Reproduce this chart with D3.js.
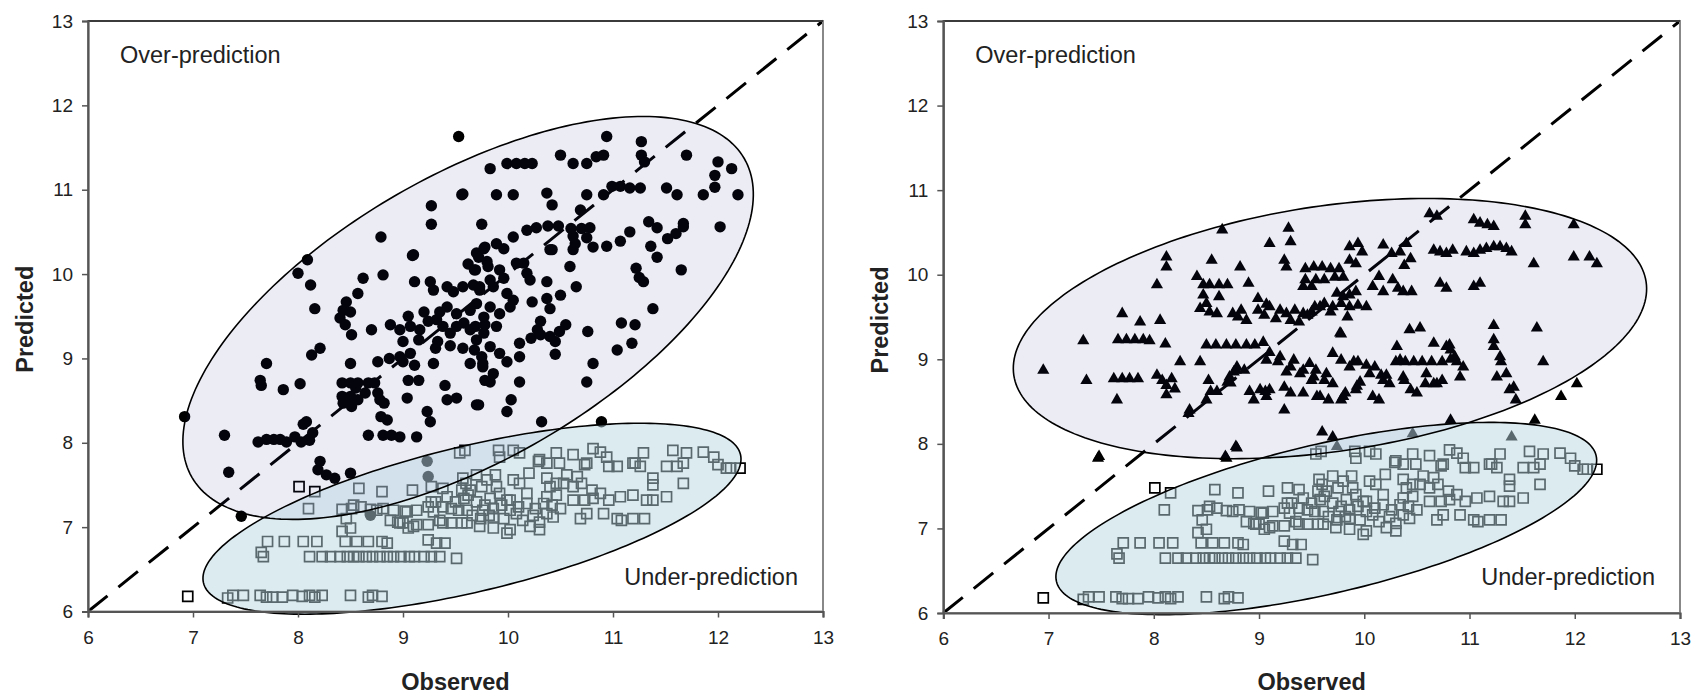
<!DOCTYPE html>
<html>
<head>
<meta charset="utf-8">
<script src="https://cdn.jsdelivr.net/npm/d3@7"></script>
<style>
  body { margin: 0; background: #fff; }
  text { font-family: "Liberation Sans", Arial, sans-serif; fill: #222; }
</style>
</head>
<body>
<div id="chart"></div>
<script>
/** DATA (observed, predicted) */
const ticks = [6, 7, 8, 9, 10, 11, 12, 13];

// under-prediction squares (same in both panels)
const squares = [
  [6.95,6.18],[7.33,6.16],[7.38,6.19],[7.48,6.19],[7.64,6.19],[7.70,6.17],[7.76,6.17],[7.85,6.17],[7.95,6.19],
  [8.04,6.18],[8.11,6.19],[8.16,6.17],[8.23,6.19],[8.50,6.19],[8.67,6.17],[8.71,6.19],[8.80,6.18],
  [7.67,6.65],[7.65,6.70],[8.11,6.65],[8.23,6.65],[8.31,6.65],[8.40,6.65],[8.47,6.65],[8.53,6.65],[8.58,6.65],
  [8.65,6.65],[8.71,6.65],[8.78,6.65],[8.85,6.65],[8.91,6.65],[8.98,6.65],[9.06,6.65],[9.11,6.65],[9.20,6.65],
  [9.27,6.65],[9.35,6.65],[9.51,6.63],
  [7.71,6.83],[7.87,6.83],[8.05,6.83],[8.18,6.83],[8.45,6.83],[8.56,6.83],[8.67,6.83],[8.80,6.83],[8.85,6.81],
  [9.24,6.85],[9.40,6.81],[9.32,6.81],
  [8.46,7.10],[8.50,6.99],[8.42,6.95],[8.88,7.08],[8.97,7.05],[9.05,6.99],[9.13,7.03],[8.95,7.06],[9.24,7.03],
  [9.35,7.08],[9.46,7.05],[9.56,7.05],[9.00,7.05],[9.10,7.01],[9.38,7.05],[9.61,7.05],[9.73,7.01],[9.86,6.99],
  [10.02,6.97],[9.99,6.93],[10.21,7.01],[10.30,6.97],
  [8.10,7.22],[8.42,7.21],[8.51,7.22],[8.60,7.24],[8.69,7.21],[8.53,7.26],[8.75,7.20],[8.81,7.22],[8.91,7.20],
  [9.02,7.19],[9.13,7.20],[9.24,7.24],[9.31,7.30],[9.38,7.24],[9.46,7.22],[9.53,7.20],[9.04,7.18],[9.29,7.18],
  [9.61,7.20],[9.76,7.20],
  [8.01,7.48],[8.16,7.42],[8.58,7.46],[8.80,7.42],[9.09,7.44],[9.27,7.48],[9.38,7.46],[9.60,7.52],[9.56,7.44],
  [9.57,7.58],[9.64,7.44],[9.75,7.48],[9.80,7.56],[9.89,7.48],[10.05,7.56],[10.11,7.52],[10.18,7.40],[10.37,7.58],
  [10.40,7.48],[10.46,7.52],[10.53,7.52],[10.62,7.48],[10.70,7.52],[10.80,7.44],[10.88,7.40],[9.92,7.40],[9.99,7.32],
  [9.27,7.30],[9.83,7.34],[10.02,7.32],[10.37,7.36],[10.46,7.38],[10.62,7.32],[10.73,7.32],[10.81,7.34],[10.96,7.32],
  [11.07,7.36],[11.19,7.38],[11.32,7.32],[11.38,7.32],[11.51,7.36],[11.67,7.52],[11.38,7.58],[11.38,7.50],
  [9.86,7.12],[9.96,7.10],[10.08,7.16],[10.24,7.14],[10.30,7.06],[10.37,7.16],[10.43,7.12],[10.69,7.10],[10.75,7.16],
  [10.91,7.16],[11.04,7.10],[11.08,7.08],[11.19,7.10],[11.30,7.10],
  [9.62,7.38],[9.70,7.30],[9.78,7.26],[9.86,7.22],[9.94,7.26],[10.02,7.20],[10.10,7.24],[10.18,7.28],[10.26,7.22],
  [10.34,7.28],[10.42,7.26],[10.50,7.22],[9.66,7.14],[9.74,7.10],[9.82,7.14],[10.14,7.08],[9.58,7.34],[9.50,7.30],
  [9.42,7.36],[9.70,7.62],[9.88,7.62],[10.20,7.64],[10.56,7.62],[10.66,7.60],
  [9.54,7.88],[9.59,7.91],[9.91,7.91],[10.05,7.91],[9.92,7.83],[10.30,7.80],[10.37,7.76],[10.46,7.88],[10.62,7.86],
  [10.75,7.76],[10.81,7.93],[10.88,7.89],[10.94,7.83],[10.96,7.72],[11.04,7.72],[11.19,7.76],[11.29,7.88],[11.26,7.72],
  [11.51,7.72],[11.57,7.91],[11.61,7.72],[11.70,7.88],[11.67,7.76],[11.86,7.89],[11.96,7.83],[12.00,7.74],[12.08,7.70],
  [12.21,7.70],[10.11,7.88],[10.29,7.78],[10.49,7.76],[10.73,7.74],[11.21,7.76],[12.12,7.70]
];

// left panel, over-prediction circles
const circles = [
  [9.53,11.63],[10.94,11.63],[11.27,11.57],[11.27,11.41],[11.30,11.33],[11.70,11.41],
  [12.00,11.33],[12.13,11.25],[11.97,11.17],[11.97,11.03],[11.86,10.94],[12.19,10.94],[12.02,10.56],[11.67,10.56],
  [11.51,11.02],[11.61,10.94],[9.83,11.25],[9.99,11.31],[10.08,11.31],[10.16,11.31],[10.23,11.31],
  [10.50,11.41],[10.62,11.31],[10.75,11.31],[10.84,11.39],[10.91,11.41],
  [10.91,10.94],[10.99,11.04],[11.07,11.04],[11.16,11.02],[11.26,11.02],[10.75,10.94],
  [10.37,10.96],[10.42,10.82],[9.89,10.94],[10.05,10.94],[9.56,10.94],[9.57,10.95],
  [9.27,10.81],[9.27,10.59],[9.75,10.59],[10.69,10.76],
  [10.18,10.52],[10.27,10.55],[10.38,10.57],[10.48,10.57],[10.60,10.54],[10.70,10.54],[10.78,10.55],
  [10.42,10.29],[10.62,10.45],[10.64,10.36],[10.75,10.43],[10.81,10.32],[10.94,10.33],[11.07,10.39],[11.16,10.50],
  [11.34,10.62],[11.42,10.55],[11.36,10.33],[11.42,10.20],[11.52,10.42],[11.60,10.48],[11.67,10.60],
  [11.22,10.07],[11.29,9.91],[11.25,9.96],[11.65,10.05],[11.38,9.59],[11.08,9.42],[11.21,9.40],[11.18,9.18],[11.04,9.10],
  [10.76,9.32],[10.81,8.94],[10.75,8.72],[10.89,8.25],[10.32,8.25],[10.03,8.51],[9.99,8.37],[9.72,8.45],[9.83,8.72],
  [10.11,8.72],[9.99,8.96],[10.11,9.18],[10.22,9.24],[10.31,9.28],[10.40,9.26],[10.45,9.20],[10.45,9.05],[10.28,9.34],
  [10.31,9.44],[10.55,9.40],[10.49,9.32],
  [9.70,10.25],[9.78,10.32],[9.89,10.36],[9.96,10.30],[10.05,10.44],[9.69,10.05],[9.81,10.09],[9.92,10.05],[10.08,10.13],
  [10.15,10.13],[9.83,9.93],[9.96,9.95],[9.73,9.81],[9.86,9.85],[9.99,9.77],[9.70,9.65],[9.83,9.61],[9.92,9.53],
  [10.02,9.61],[10.18,10.01],[10.21,9.93],[10.37,9.91],[10.23,9.67],[10.05,9.69],[10.37,9.71],[10.50,9.75],[10.40,9.59],
  [9.69,9.38],[9.78,9.40],[9.89,9.38],[9.70,9.22],[9.83,9.14],[9.92,9.06],[9.76,8.94],[9.86,8.82],[10.11,9.02],
  [10.65,9.85],[10.59,10.09],[10.62,10.29],[10.40,10.29],[9.10,10.23],
  [8.79,10.44],[9.09,10.22],[9.77,10.30],[9.72,10.20],[9.62,10.12],[9.68,10.05],[9.80,10.15],
  [8.09,10.17],[8.00,10.01],[8.12,9.87],[8.16,9.59],[8.62,9.95],[8.81,9.99],[8.57,9.77],
  [8.46,9.67],[8.43,9.57],[8.40,9.48],[8.45,9.40],[8.51,9.28],[8.50,9.55],[8.70,9.34],
  [9.11,9.91],[9.26,9.91],[9.29,9.81],[9.42,9.85],[9.48,9.79],[9.57,9.85],[9.67,9.87],[9.73,9.85],
  [8.88,9.40],[8.97,9.34],[9.07,9.38],[9.16,9.34],[9.24,9.44],[9.32,9.46],[9.38,9.38],[9.45,9.30],[9.51,9.38],
  [9.58,9.42],[9.64,9.34],[9.77,9.30],[9.51,9.53],[9.42,9.61],[9.64,9.57],[9.77,9.49],
  [9.20,9.55],[9.35,9.55],[9.05,9.50],[9.15,9.22],[9.33,9.20],[9.45,9.15],[9.00,9.20],
  [8.50,8.94],[8.21,9.12],[8.13,9.04],[7.70,8.94],[7.64,8.74],[7.65,8.68],[7.86,8.63],[8.02,8.70],
  [6.92,8.31],[7.30,8.09],[7.34,7.65],[7.46,7.13],
  [7.62,8.01],[7.70,8.04],[7.77,8.04],[7.83,8.04],[7.89,8.01],[7.97,8.07],[8.03,8.01],[8.11,8.03],[8.08,8.25],
  [8.14,8.12],[8.05,8.22],[8.21,7.78],[8.19,7.68],[8.27,7.62],[8.35,7.58],[8.50,7.64],
  [8.67,8.09],[8.81,8.09],[8.89,8.09],[8.97,8.07],[9.13,8.07],[9.23,7.78],[9.24,7.60],[8.69,7.14],
  [8.42,8.71],[8.50,8.71],[8.57,8.71],[8.67,8.71],[8.73,8.71],[8.42,8.55],[8.50,8.55],[8.57,8.51],[8.43,8.47],
  [8.51,8.43],[8.64,8.59],[8.76,8.59],[8.78,8.51],[8.82,8.47],[8.79,8.31],[8.85,8.27],[8.55,8.65],
  [8.76,8.96],[8.87,9.00],[8.97,9.02],[9.07,9.06],[9.00,8.96],[9.11,8.92],[9.05,8.74],[9.15,8.74],[9.04,8.53],
  [9.29,8.94],[9.40,8.68],[9.42,8.51],[9.51,8.53],[9.70,8.45],[9.23,8.37],[9.26,8.25],
  [9.57,9.12],[9.68,9.10],[9.75,9.02],[9.64,8.94],[9.76,8.90],[9.31,9.12],[9.78,8.74]
];

// right panel, over-prediction triangles
const triangles = [
  [6.95,8.87],[7.33,9.22],[7.36,8.75],[7.65,8.52],[7.47,7.83],[7.70,9.54],[7.87,9.44],[8.06,9.46],
  [7.66,9.23],[7.74,9.23],[7.82,9.23],[7.90,9.23],[7.96,9.22],[8.11,9.18],
  [7.62,8.77],[7.70,8.77],[7.77,8.77],[7.85,8.77],
  [8.03,8.81],[8.08,8.75],[8.12,8.69],[8.17,8.77],[8.20,8.65],[8.12,8.58],[8.25,8.97],[8.44,8.97],
  [8.50,9.17],[8.59,9.17],[8.69,9.17],[8.78,9.17],[8.88,9.17],[8.96,9.17],[9.04,9.20],[9.10,9.08],
  [8.52,8.75],[8.54,8.62],[8.50,8.52],[8.60,8.62],[8.76,8.85],[8.73,8.72],[8.79,8.91],[8.86,8.87],
  [8.91,8.62],[8.95,8.52],[8.33,8.36],[8.69,7.83],[8.79,7.95],[9.07,8.99],[9.06,8.62],
  [8.65,10.53],[8.12,10.21],[8.12,10.09],[8.03,9.88],[8.55,10.17],[8.82,10.09],
  [8.41,9.98],[8.47,9.88],[8.53,9.88],[8.62,9.88],[8.70,9.88],[8.90,9.90],
  [8.47,9.76],[8.50,9.66],[8.44,9.60],[8.53,9.56],[8.60,9.54],[8.75,9.54],[8.80,9.50],[8.88,9.46],[8.83,9.58],[8.62,9.74],
  [8.99,9.72],[8.99,9.58],[9.07,9.65],
  [9.10,10.37],[9.28,10.55],[9.30,10.39],[9.24,10.17],[9.26,10.09],
  [9.44,10.07],[9.52,10.09],[9.60,10.09],[9.68,10.07],[9.76,10.07],[9.44,9.94],[9.54,9.94],[9.62,9.94],[9.72,9.97],
  [9.80,9.97],[9.42,9.86],[9.50,9.86],
  [9.86,10.33],[9.94,10.37],[9.98,10.27],[9.86,10.17],[9.92,10.13],
  [10.18,10.35],[10.26,10.25],[10.34,10.27],[10.40,10.37],[10.44,10.19],[10.38,10.11],
  [10.62,10.72],[10.69,10.69],[11.04,10.65],[11.10,10.61],[11.17,10.59],[11.23,10.57],[11.53,10.69],[11.53,10.59],
  [11.99,10.59],[11.99,10.21],[12.14,10.21],[12.21,10.13],[11.61,10.13],
  [10.66,10.29],[10.72,10.27],[10.78,10.25],[10.84,10.29],[10.97,10.27],[11.04,10.25],[11.10,10.29],[11.16,10.31],
  [11.23,10.33],[11.29,10.33],[11.35,10.31],[11.40,10.27],
  [10.72,9.90],[10.78,9.84],[11.04,9.86],[11.10,9.90],
  [10.14,9.98],[10.08,9.86],[10.18,9.80],[10.27,9.94],[10.32,9.84],[10.37,9.80],[10.45,9.80],
  [9.74,9.78],[9.80,9.74],[9.86,9.76],[9.92,9.80],[9.78,9.66],[9.70,9.62],[9.86,9.62],[9.94,9.64],[10.02,9.62],
  [9.26,9.54],[9.34,9.58],[9.42,9.54],[9.50,9.56],[9.58,9.62],[9.30,9.46],[9.38,9.44],[9.46,9.52],[9.68,9.56],
  [9.84,9.50],[9.10,9.62],[9.20,9.58],[9.53,9.62],[9.62,9.66],[9.05,9.52],[9.16,9.48],
  [9.77,9.31],[10.43,9.35],[10.53,9.37],[11.23,9.40],[11.23,9.23],[11.64,9.37],
  [10.66,9.19],[10.78,9.15],[10.82,9.11],[10.86,9.03],[11.23,9.15],[11.30,8.97],[11.70,8.97],
  [10.30,8.97],[10.39,8.97],[10.47,8.97],[10.55,8.97],[10.64,8.97],[10.74,8.97],[10.82,9.00],[10.94,8.91],
  [9.78,9.30],[9.70,9.07],[9.78,8.99],[9.86,8.91],[9.94,8.97],[10.02,8.93],[10.10,8.91],[10.16,8.81],
  [8.78,8.87],[8.72,8.79],[8.70,8.73],[9.18,8.97],[9.30,8.91],[9.42,8.87],[9.54,8.87],[9.50,8.75],
  [9.10,8.64],[9.24,8.67],[9.30,8.60],[9.42,8.60],[9.62,8.75],[9.70,8.71],[9.82,8.60],[9.58,8.56],[9.66,8.52],
  [9.78,8.52],[9.92,8.64],[9.96,8.73],[10.08,8.56],[10.14,8.52],[10.24,8.71],[10.38,8.75],[10.44,8.64],[10.50,8.60],
  [10.58,8.71],[10.66,8.71],[10.74,8.75],[11.42,8.67],[11.44,8.52],[11.87,8.56],[12.02,8.71],
  [9.24,8.40],[8.34,8.40],[9.60,8.14],[9.70,8.08],[8.78,7.97],[8.68,7.85],[7.48,7.85],
  [10.46,8.12],[10.82,8.28],[11.40,8.08],[11.62,8.28],[9.74,7.97],
  [9.20,9.03],[9.33,8.99],[9.48,8.95],[9.26,8.85],[9.39,8.83],[9.52,8.79],[9.64,8.83],[9.90,8.97],[10.05,8.83],
  [10.21,8.81],[10.34,8.99],[10.59,8.83],[10.81,9.17],[10.88,8.97],[11.29,9.03],[11.35,8.83],[10.31,9.15],
  [9.01,8.64],[9.07,8.56],[9.55,8.56],[9.80,8.56],[9.93,8.68],[10.18,8.75],[10.37,8.79],[10.69,8.71],[10.91,8.79],
  [11.26,8.79],[11.38,8.64]
];

// annotation ellipses in data units: centre and two conjugate half-axes
const overLeft = { c: [9.62, 9.48], u: [2.63, 1.89], v: [0.68, -1.46] };
const underLeft = { c: [9.657, 7.10], u: [2.557, 0.761], v: [0.161, -0.838] };
const overRight = { c: [9.674, 9.363], u: [3.004, 0.552], v: [0.1705, -1.436] };
const underRight = { c: [9.639, 7.117], u: [2.564, 0.7435], v: [0.161, -0.860] };

/** LAYOUT */
const width = 1694, height = 695;

const svg = d3.select("#chart").append("svg")
  .attr("width", width)
  .attr("height", height);

const panels = [
  { left: 88, right: 823, top: 21, bottom: 611.5, over: circles, marker: "circle", overE: overLeft, underE: underLeft },
  { left: 943.3, right: 1680, top: 21, bottom: 613, over: triangles, marker: "triangle", overE: overRight, underE: underRight }
];

panels.forEach(drawPanel);

function drawPanel(p) {
  const x = d3.scaleLinear([6, 13], [p.left, p.right]);
  const y = d3.scaleLinear([6, 13], [p.bottom, p.top]);
  const g = svg.append("g");

  // under-prediction squares
  g.selectAll("path.sq")
    .data(squares)
    .join("path")
    .attr("class", "sq")
    .attr("d", d3.symbol(d3.symbolSquare, 100))
    .attr("transform", d => `translate(${x(d[0])},${y(d[1])})`)
    .attr("fill", "none")
    .attr("stroke", "#000")
    .attr("stroke-width", 1.7);

  // over-prediction markers
  if (p.marker === "circle") {
    g.selectAll("circle.pt")
      .data(p.over)
      .join("circle")
      .attr("class", "pt")
      .attr("cx", d => x(d[0]))
      .attr("cy", d => y(d[1]))
      .attr("r", 5.7)
      .attr("fill", "#000");
  } else {
    g.selectAll("path.pt")
      .data(p.over)
      .join("path")
      .attr("class", "pt")
      .attr("d", d3.symbol(d3.symbolTriangle, 64))
      .attr("transform", d => `translate(${x(d[0])},${y(d[1])})`)
      .attr("fill", "#000");
  }

  // 1:1 line
  g.append("line")
    .attr("x1", x(6)).attr("y1", y(6))
    .attr("x2", x(13)).attr("y2", y(13))
    .attr("stroke", "#000")
    .attr("stroke-width", 3)
    .attr("stroke-dasharray", "25,14");

  // ellipses
  const ellipse = e => d3.line().curve(d3.curveLinearClosed)(
    d3.range(0, 2 * Math.PI, Math.PI / 120).map(t => [
      x(e.c[0] + e.u[0] * Math.cos(t) + e.v[0] * Math.sin(t)),
      y(e.c[1] + e.u[1] * Math.cos(t) + e.v[1] * Math.sin(t))
    ]));

  g.append("path").attr("d", ellipse(p.overE))
    .attr("fill", "rgba(40,40,140,0.09)");
  g.append("path").attr("d", ellipse(p.underE))
    .attr("fill", "rgba(184,214,224,0.49)");
  g.append("path").attr("d", ellipse(p.overE))
    .attr("fill", "none").attr("stroke", "#000").attr("stroke-width", 1.6);
  g.append("path").attr("d", ellipse(p.underE))
    .attr("fill", "none").attr("stroke", "#000").attr("stroke-width", 1.6);

  // frame
  g.append("rect")
    .attr("x", p.left).attr("y", p.top)
    .attr("width", p.right - p.left).attr("height", p.bottom - p.top)
    .attr("fill", "none").attr("stroke", "#888").attr("stroke-width", 2);
  g.append("line")
    .attr("x1", p.left).attr("x2", p.right)
    .attr("y1", p.top).attr("y2", p.top)
    .attr("stroke", "#222").attr("stroke-width", 1.6);

  // axes
  const xAxis = g.append("g")
    .attr("transform", `translate(0,${p.bottom})`)
    .call(d3.axisBottom(x).tickValues(ticks).tickFormat(d3.format("d")).tickSize(6).tickPadding(13));
  const yAxis = g.append("g")
    .attr("transform", `translate(${p.left},0)`)
    .call(d3.axisLeft(y).tickValues(ticks).tickFormat(d3.format("d")).tickSize(6).tickPadding(9));

  [xAxis, yAxis].forEach(a => {
    a.select(".domain").attr("stroke", "#555").attr("stroke-width", 2.2);
    a.selectAll(".tick line").attr("stroke", "#555").attr("stroke-width", 1.5);
    a.selectAll(".tick text").attr("font-size", 19).attr("fill", "#222")
      .style("font-family", '"Liberation Sans", Arial, sans-serif');
  });

  // annotations
  g.append("text")
    .attr("x", p.left + 32).attr("y", p.top + 42)
    .attr("font-size", 23.5)
    .text("Over-prediction");
  g.append("text")
    .attr("x", p.right - 25).attr("y", 585)
    .attr("text-anchor", "end")
    .attr("font-size", 23.5)
    .text("Under-prediction");

  // axis titles
  g.append("text")
    .attr("x", (p.left + p.right) / 2).attr("y", 690)
    .attr("text-anchor", "middle")
    .attr("font-size", 23.5).attr("font-weight", "bold")
    .text("Observed");
  g.append("text")
    .attr("transform", `translate(${p.left - 55},${(p.top + p.bottom) / 2 + 3}) rotate(-90)`)
    .attr("text-anchor", "middle")
    .attr("font-size", 23.5).attr("font-weight", "bold")
    .text("Predicted");
}
</script>
</body>
</html>
